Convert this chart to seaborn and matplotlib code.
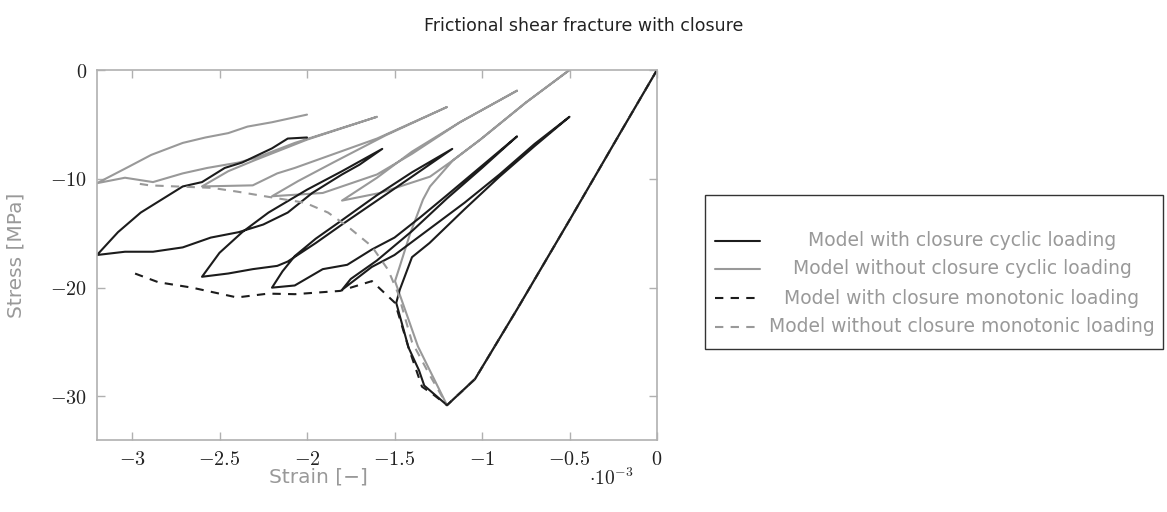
import matplotlib
matplotlib.use("Agg")
import matplotlib.pyplot as plt
import seaborn as sns
import numpy as np
import pandas as pd
from matplotlib.lines import Line2D
from matplotlib.patches import Rectangle

# ---------------- data (strain in 1e-3, stress in MPa) ----------------
pre_peak_strain = [0.0, -0.2, -0.5, -0.8, -1.04, -1.2]
pre_peak_stress = [0.0, -5.5, -13.8, -22.0, -28.4, -30.8]

# Model with closure, monotonic loading (post-peak)
mono_closure_strain = [-1.28, -1.343, -1.42, -1.497, -1.629, -1.811, -2.069, -2.223, -2.4, -2.657, -2.85, -3.0]
mono_closure_stress = [-29.8, -29.1, -25.5, -21.4, -19.4, -20.3, -20.6, -20.55, -20.9, -20.0, -19.5, -18.6]

# Model without closure, monotonic loading (post-peak)
mono_open_strain = [-1.3, -1.4, -1.48, -1.537, -1.63, -1.766, -1.88, -2.011, -2.223, -2.394, -2.543, -2.75, -2.9, -2.994]
mono_open_stress = [-28.0, -25.0, -20.5, -18.35, -16.2, -14.4, -13.1, -12.2, -11.65, -11.19, -10.83, -10.7, -10.6, -10.37]

# Model with closure, cyclic loading (post-peak path)
cyc_closure_strain = [-1.33, -1.36, -1.42, -1.49,
                      -1.47, -1.40, -1.30, -1.1, -0.9, -0.7, -0.5,
                      -0.7, -0.9, -1.1, -1.3, -1.5, -1.63, -1.8,
                      -1.75, -1.6, -1.4, -1.2, -1.0, -0.8,
                      -1.0, -1.2, -1.35, -1.5, -1.63, -1.77, -1.91, -2.07, -2.2,
                      -2.14, -2.07, -1.95, -1.8, -1.6, -1.4, -1.17,
                      -1.4, -1.6, -1.8, -1.95, -2.11, -2.17, -2.31, -2.45, -2.6,
                      -2.5, -2.37, -2.22, -2.0, -1.8, -1.57,
                      -1.7, -1.8, -1.97, -2.11, -2.25, -2.39, -2.55, -2.71, -2.88, -3.04, -3.2,
                      -3.08, -2.95, -2.83, -2.71, -2.6, -2.47, -2.37, -2.2, -2.11, -2.0]
cyc_closure_stress = [-29.0, -27.6, -25.5, -21.4,
                      -20.2, -17.2, -15.9, -12.8, -9.8, -7.0, -4.3,
                      -6.8, -9.6, -12.2, -14.6, -17.0, -18.1, -20.2,
                      -19.2, -17.5, -14.8, -11.8, -9.0, -6.1,
                      -8.8, -11.5, -13.5, -15.4, -16.5, -17.9, -18.3, -19.8, -20.0,
                      -18.5, -17.1, -15.5, -13.8, -11.5, -9.4, -7.25,
                      -9.8, -12.0, -14.2, -15.9, -17.6, -18.0, -18.3, -18.7, -19.0,
                      -16.8, -14.9, -13.1, -11.0, -9.3, -7.25,
                      -8.7, -9.6, -11.3, -13.1, -14.2, -14.9, -15.4, -16.3, -16.7, -16.7, -17.0,
                      -14.9, -13.1, -11.9, -10.7, -10.3, -9.0, -8.5, -7.2, -6.3, -6.2]

# Model without closure, cyclic loading (post-peak path)
cyc_open_strain = [-1.366, -1.497,
                   -1.469, -1.41, -1.337, -1.297, -1.166, -1.01, -0.75, -0.5,
                   -0.75, -1.01, -1.166, -1.297, -1.583, -1.8,
                   -1.6, -1.4, -1.126, -0.8,
                   -1.126, -1.4, -1.6, -1.91, -2.2,
                   -2.05, -1.85, -1.55, -1.2,
                   -1.6, -2.07, -2.17, -2.31, -2.6,
                   -2.45, -2.3, -2.0, -1.6,
                   -2.07, -2.28, -2.39, -2.57, -2.71, -2.88, -3.04, -3.2,
                   -3.02, -2.89, -2.71, -2.58, -2.45, -2.34, -2.2, -2.0]
cyc_open_stress = [-25.4, -19.4,
                   -18.0, -15.0, -11.9, -10.7, -8.3, -6.4, -3.0, 0.0,
                   -3.0, -6.4, -8.3, -9.8, -11.3, -12.0,
                   -9.9, -7.5, -4.8, -1.9,
                   -4.8, -7.7, -9.6, -11.3, -11.6,
                   -10.2, -8.5, -6.0, -3.4,
                   -6.3, -9.0, -9.5, -10.6, -10.7,
                   -9.3, -8.3, -6.4, -4.3,
                   -6.7, -8.0, -8.5, -9.0, -9.5, -10.3, -9.9, -10.4,
                   -8.9, -7.8, -6.7, -6.2, -5.8, -5.2, -4.8, -4.1]

x_ticks = [-3, -2.5, -2, -1.5, -1, -0.5, 0]
x_tick_labels = ["$-3$", "$-2.5$", "$-2$", "$-1.5$", "$-1$", "$-0.5$", "$0$"]
y_ticks = [0, -10, -20, -30]
y_tick_labels = ["$0$", "$-10$", "$-20$", "$-30$"]

legend_labels = ["Model with closure cyclic loading",
                 "Model without closure cyclic loading",
                 "Model with closure monotonic loading",
                 "Model without closure monotonic loading"]

# ---------------- build tables ----------------
def series(name, xs, ys):
    xs = list(pre_peak_strain) + list(xs)
    ys = list(pre_peak_stress) + list(ys)
    return pd.DataFrame({"strain": xs, "stress": ys, "series": name, "order": range(len(xs))})

df = pd.concat([
    series(legend_labels[0], cyc_closure_strain, cyc_closure_stress),
    series(legend_labels[1], cyc_open_strain, cyc_open_stress),
    series(legend_labels[2], mono_closure_strain, mono_closure_stress),
    series(legend_labels[3], mono_open_strain, mono_open_stress),
], ignore_index=True)

BLACK = "#1c1c1c"
GRAY = "#999999"
SPINE = "#b0b0b0"
styles = {
    legend_labels[1]: dict(color=GRAY, ls="-"),
    legend_labels[0]: dict(color=BLACK, ls="-"),
    legend_labels[3]: dict(color=GRAY, ls=(0, (4, 3.5))),
    legend_labels[2]: dict(color=BLACK, ls=(0, (4, 3.5))),
}

sns.set_theme(style="white")
plt.rcParams["font.family"] = ["DejaVu Sans"]
plt.rcParams["mathtext.fontset"] = "cm"

W, H = 1167, 512
fig = plt.figure(figsize=(W / 100, H / 100), dpi=100)
ax = fig.add_axes([97 / W, 72 / H, 560 / W, 370 / H])

draw_order = [legend_labels[1], legend_labels[0], legend_labels[3], legend_labels[2]]
for name in draw_order:
    sub = df[df["series"] == name]
    sns.lineplot(data=sub, x="strain", y="stress", sort=False, estimator=None,
                 ax=ax, color=styles[name]["color"], lw=1.5, legend=False)
    ax.lines[-1].set_linestyle(styles[name]["ls"])

ax.set_xlim(-3.2, 0)
ax.set_ylim(-34, 0)
ax.set_xticks(x_ticks)
ax.set_xticklabels(x_tick_labels)
ax.set_yticks(y_ticks)
ax.set_yticklabels(y_tick_labels)
ax.tick_params(axis="both", which="major", direction="in", length=6, width=1,
               color=SPINE, labelsize=14.5, labelcolor="#222222",
               top=True, right=True, bottom=True, left=True, pad=7)
for s in ax.spines.values():
    s.set_visible(True)
    s.set_color(SPINE)
    s.set_linewidth(1.2)

ax.set_xlabel("Strain [\u2212]", color=GRAY, fontsize=14.5)
ax.set_ylabel("Stress [MPa]", color=GRAY, fontsize=14.5)
ax.xaxis.set_label_coords((318 - 97) / 560, -0.075)
ax.yaxis.set_label_coords(-0.127, 0.5)

fig.text(611 / W, 1 - 478 / H, r"$\cdot 10^{-3}$", fontsize=14, color="#222222",
         ha="center", va="center")

fig.suptitle("Frictional shear fracture with closure", x=0.5, y=1 - 26 / H,
             fontsize=12.5, color="#222222", va="center")

# ---------------- legend (drawn manually, text centered) ----------------
fig.add_artist(Rectangle((705 / W, 1 - 349 / H), (1163 - 705) / W, (349 - 195) / H,
                         transform=fig.transFigure, fill=False, edgecolor="#333333", lw=1.0))
rows_y = [241, 269, 298, 327]
for name, yy in zip(legend_labels, rows_y):
    st = styles[name]
    fig.add_artist(Line2D([715 / W, 760 / W], [1 - yy / H, 1 - yy / H], transform=fig.transFigure,
                          color=st["color"], ls=st["ls"], lw=1.5))
    fig.text(962 / W, 1 - yy / H, name, ha="center", va="center", color=GRAY, fontsize=13.5)

fig.savefig("out.png", dpi=100)
